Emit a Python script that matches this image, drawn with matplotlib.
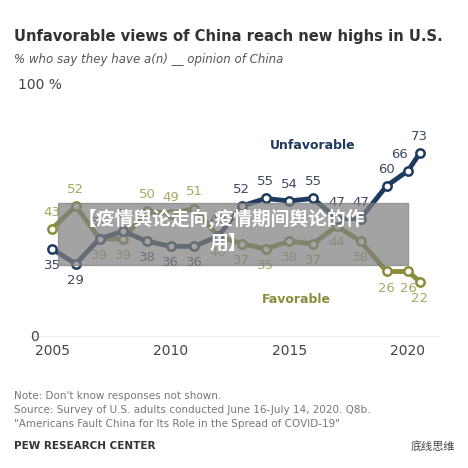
import matplotlib.pyplot as plt

years = [2005, 2006, 2007, 2008, 2009, 2010, 2011, 2012, 2013, 2014, 2015, 2016, 2017, 2018, 2019.1, 2020.0, 2020.5]
unfavorable = [35, 29, 39, 42, 38, 36, 36, 40, 52, 55, 54, 55, 47, 47, 60, 66, 73]
favorable = [43, 52, 39, 39, 50, 49, 51, 40, 37, 35, 38, 37, 44, 38, 26, 26, 22]
xticks = [2005, 2010, 2015, 2020]

plt.rcParams['font.family'] = ['DejaVu Sans', 'Noto Sans CJK SC']
navy = '#1f3a5f'
olive = '#8c8c3c'
olive_txt = '#a8a860'
navy_txt = '#3a4a66'

fig = plt.figure(figsize=(4.68, 4.68), dpi=100)
ax = fig.add_axes([30/468, 0.280, 410/468, 0.538])
ax.set_xlim(2004.07, 2021.35)
ax.set_ylim(0, 100)
ax.axhline(0, color='#999999', lw=1)

ax.plot(years, favorable, color=olive, lw=3.5, marker='o', ms=6,
        mfc='white', mec=olive, mew=1.8, zorder=3)
ax.plot(years, unfavorable, color=navy, lw=3.5, marker='o', ms=6,
        mfc='white', mec=navy, mew=1.8, zorder=4)

for i, (x, u, f) in enumerate(zip(years, unfavorable, favorable)):
    dx = -0.35 if i == 15 else 0
    if u >= f:
        ax.text(x + dx, u + 4, str(u), ha='center', va='bottom', fontsize=9.5, color=navy_txt)
        ax.text(x, f - 4, str(f), ha='center', va='top', fontsize=9.5, color=olive_txt)
    else:
        ax.text(x, f + 4, str(f), ha='center', va='bottom', fontsize=9.5, color=olive_txt)
        ax.text(x, u - 4, str(u), ha='center', va='top', fontsize=9.5, color=navy_txt)

ax.text(2016, 76, 'Unfavorable', ha='center', va='center', fontsize=9,
        fontweight='bold', color=navy)
ax.text(2015.3, 15, 'Favorable', ha='center', va='center', fontsize=9,
        fontweight='bold', color=olive)

for s in ax.spines.values():
    s.set_visible(False)
ax.set_xticks(xticks)
ax.set_xticklabels([str(x) for x in xticks], fontsize=10, color='#444444')
ax.set_yticks([])
ax.tick_params(axis='x', length=0, pad=5)
fig.text(30/468, 1 - 337/468, '0', ha='left', va='center', fontsize=10, color='#444444')
fig.text(18/468, 1 - 85/468, '100 %', ha='left', va='center', fontsize=10, color='#444444')

fig.text(14/468, 1 - 36/468, 'Unfavorable views of China reach new highs in U.S.',
         fontsize=10.6, fontweight='bold', color='#333333', va='center')
fig.text(14/468, 1 - 60/468, '% who say they have a(n) __ opinion of China',
         fontsize=8.5, style='italic', color='#555555', va='center')

fig.text(14/468, 1 - 396/468, 'Note: Don\'t know responses not shown.', fontsize=7.5, color='#777777', va='center')
fig.text(14/468, 1 - 410/468, 'Source: Survey of U.S. adults conducted June 16-July 14, 2020. Q8b.',
         fontsize=7.5, color='#777777', va='center')
fig.text(14/468, 1 - 424/468, '"Americans Fault China for Its Role in the Spread of COVID-19"',
         fontsize=7.5, color='#777777', va='center')
fig.text(14/468, 1 - 446/468, 'PEW RESEARCH CENTER', fontsize=7.5, fontweight='bold',
         color='#333333', va='center')
fig.text(455/468, 1 - 446/468, '底线思维', fontsize=8, color='#444444', va='center', ha='right',
         family=['Noto Sans CJK SC', 'DejaVu Sans'])

# banner overlay
fig.patches.append(plt.Rectangle((58/468, 1 - 265/468), 350/468, 62/468,
                                 transform=fig.transFigure, color='#808080', alpha=0.72, zorder=10))
fig.text(78/468, 1 - 219/468, '【疫情舆论走向,疫情期间舆论的作', ha='left', va='center',
         fontsize=13.5, fontweight='bold', color='white', zorder=11,
         family=['Noto Sans CJK SC', 'DejaVu Sans'])
fig.text(228/468, 1 - 243/468, '用】', ha='center', va='center',
         fontsize=13.5, fontweight='bold', color='white', zorder=11,
         family=['Noto Sans CJK SC', 'DejaVu Sans'])

fig.savefig('out.png', dpi=100)
